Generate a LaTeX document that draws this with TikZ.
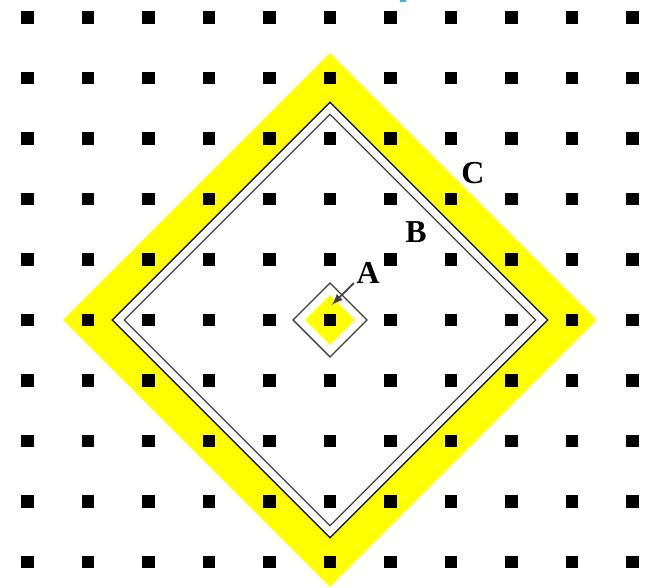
\documentclass[tikz,border=0pt]{standalone}
\usepackage{fontspec}
\setmainfont{Liberation Serif}
\usetikzlibrary{arrows, math}
\definecolor{qyellow}{RGB}{255,255,0}
\definecolor{qcyan}{RGB}{70,180,200}

\begin{document}
\begin{tikzpicture}
\tikzmath{
\C=4.41; \Bo=3.60; \Bi=3.40; \Ao=0.61; \Ai=0.41; \s=0.107;
}
\useasboundingbox (-5.455,-4.430) rectangle (5.223,5.289);

% yellow bands
\fill[qyellow, even odd rule] (0,\C) -- (\C,0) -- (0,-\C) -- (-\C,0) -- cycle
                             (0,\Bo) -- (\Bo,0) -- (0,-\Bo) -- (-\Bo,0) -- cycle;
\fill[qyellow] (0,\Ai) -- (\Ai,0) -- (0,-\Ai) -- (-\Ai,0) -- cycle;

% double line B
\draw[line width=0.6] (0,\Bo) -- (\Bo,0) -- (0,-\Bo) -- (-\Bo,0) -- cycle;
\draw[darkgray, line width=0.6] (0,\Bi) -- (\Bi,0) -- (0,-\Bi) -- (-\Bi,0) -- cycle;
\draw[darkgray, line width=0.6] (0,\Ao) -- (\Ao,0) -- (0,-\Ao) -- (-\Ao,0) -- cycle;

% lattice
\foreach \i in {-5,...,5}
  \foreach \j in {-4,...,5}
    \fill (\i-\s,\j-\s) rectangle (\i+\s,\j+\s);

\node[font=\fontsize{15}{18}\selectfont\bfseries] (A) at (0.63,0.78) {A};
\node[font=\fontsize{15}{18}\selectfont\bfseries] (B) at (1.42,1.46) {B};
\node[font=\fontsize{15}{18}\selectfont\bfseries] (C) at (2.36,2.43) {C};
\coordinate (a) at (0.03,0.25);
\draw[-latex, darkgray, line width=0.8] ([shift={(0.08,0.13)}]A.south west) -- (a);

\fill[qcyan] (1.16,5.289) -- (1.27,5.289) -- (1.24,5.255) -- (1.15,5.255) -- cycle;

\end{tikzpicture}
\end{document}
